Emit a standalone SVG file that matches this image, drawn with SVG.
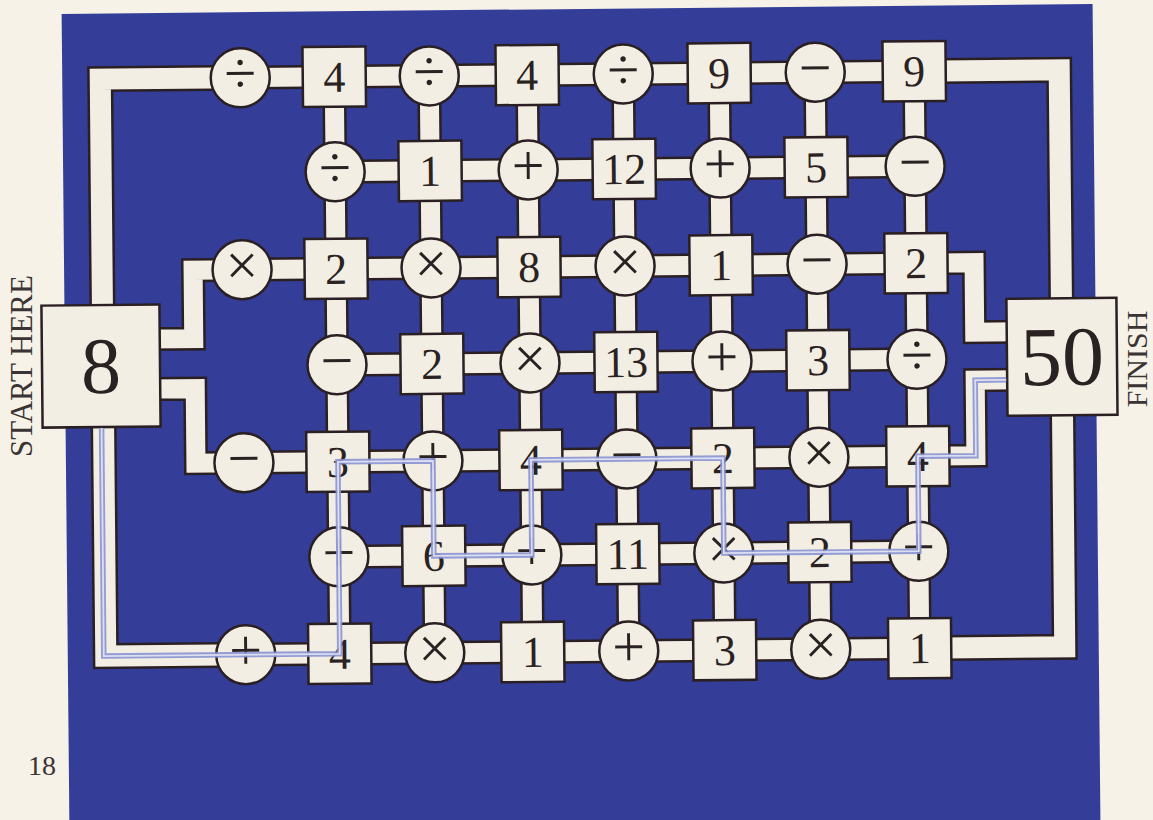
<svg xmlns="http://www.w3.org/2000/svg" width="1153" height="820" viewBox="0 0 1153 820">
<style>
.bg{fill:#f6f2e7}
.board{fill:#343e99}
.bo{fill:none;stroke:#2a1f22;stroke-width:24;stroke-linejoin:miter}
.bf{fill:none;stroke:#f2eee3;stroke-width:19;stroke-linejoin:miter}
.fo{fill:none;stroke:#2a1f22;stroke-width:26;stroke-linejoin:miter}
.ff{fill:none;stroke:#f2eee3;stroke-width:21;stroke-linejoin:miter}
.sq,.ci{fill:#f2eee3;stroke:#2a1f22;stroke-width:2.5}
.num{font-family:"Liberation Serif","Times New Roman",serif;font-size:44px;fill:#2a2222;text-anchor:middle}
.op{font-family:"Liberation Serif","Times New Roman",serif;font-size:58px;fill:#2a2222;text-anchor:middle}
.lbl{font-family:"Liberation Serif","Times New Roman",serif;font-size:31px;fill:#3a3434;text-anchor:middle}
.po{fill:none;stroke:#8892d2;stroke-width:5.5;stroke-linejoin:miter;opacity:0.9}
.pi{fill:none;stroke:#e4e6f4;stroke-width:1.8;stroke-linejoin:miter;opacity:0.9}
</style>
<rect class="bg" x="0" y="0" width="1153" height="820"/>
<text class="lbl" transform="translate(32,366) rotate(-90)">START HERE</text>
<text class="lbl" font-size="30" style="font-size:30px" transform="translate(1147,359) rotate(-90)">FINISH</text>
<text class="lbl" style="font-size:28px" x="42" y="775">18</text>
<g transform="rotate(-0.55 628 363)">
<rect class="board" x="65" y="8.5" width="1031" height="860"/>
<g id="connectors">
<path class="fo" d="M243 74H103V310M103 412V651H243M917 74H1062V312M1062 410V651H917"/>
<path class="bo" d="M243 74H917M337 169H917M243 266H917M337 362H917M243 459H917M337 554H917M243 651H917M337 74V651M432 74V651M530 74V651M626 74V651M722 74V651M818 74V651M917 74V651M150 334.5H194V266H243M150 384.5H195V459H243M917 266H975V335.5H1017M917 459H975V383.5H1017"/>
<path class="ff" d="M243 74H103V310M103 412V651H243M917 74H1062V312M1062 410V651H917"/>
<path class="bf" d="M243 74H917M337 169H917M243 266H917M337 362H917M243 459H917M337 554H917M243 651H917M337 74V651M432 74V651M530 74V651M626 74V651M722 74V651M818 74V651M917 74V651M150 334.5H194V266H243M150 384.5H195V459H243M917 266H975V335.5H1017M917 459H975V383.5H1017"/>
</g>
<g id="start"><rect class="sq" x="42" y="300" width="118" height="122"/><text class="num" style="font-size:80px" x="101" y="388">8</text></g>
<g id="finish"><rect class="sq" x="1007" y="302.5" width="110" height="117"/><text class="num" style="font-size:84px" x="1062" y="389">50</text></g>
<g id="r0c0"><circle class="ci" cx="243" cy="74" r="29.5"/><text class="op" x="243" y="89">÷</text></g>
<g id="r0c1"><rect class="sq" x="305.5" y="44" width="63" height="60"/><text class="num" x="337" y="89">4</text></g>
<g id="r0c2"><circle class="ci" cx="432" cy="74" r="29.5"/><text class="op" x="432" y="89">÷</text></g>
<g id="r0c3"><rect class="sq" x="498.5" y="44" width="63" height="60"/><text class="num" x="530" y="89">4</text></g>
<g id="r0c4"><circle class="ci" cx="626" cy="74" r="29.5"/><text class="op" x="626" y="89">÷</text></g>
<g id="r0c5"><rect class="sq" x="690.5" y="44" width="63" height="60"/><text class="num" x="722" y="89">9</text></g>
<g id="r0c6"><circle class="ci" cx="818" cy="74" r="29.5"/><text class="op" x="818" y="89">−</text></g>
<g id="r0c7"><rect class="sq" x="885.5" y="44" width="63" height="60"/><text class="num" x="917" y="89">9</text></g>
<g id="r1c1"><circle class="ci" cx="337" cy="169" r="29.5"/><text class="op" x="337" y="184">÷</text></g>
<g id="r1c2"><rect class="sq" x="400.5" y="139" width="63" height="60"/><text class="num" x="432" y="184">1</text></g>
<g id="r1c3"><circle class="ci" cx="530" cy="169" r="29.5"/><text class="op" x="530" y="184">+</text></g>
<g id="r1c4"><rect class="sq" x="594.5" y="139" width="63" height="60"/><text class="num" x="626" y="184">12</text></g>
<g id="r1c5"><circle class="ci" cx="722" cy="169" r="29.5"/><text class="op" x="722" y="184">+</text></g>
<g id="r1c6"><rect class="sq" x="786.5" y="139" width="63" height="60"/><text class="num" x="818" y="184">5</text></g>
<g id="r1c7"><circle class="ci" cx="917" cy="169" r="29.5"/><text class="op" x="917" y="184">−</text></g>
<g id="r2c0"><circle class="ci" cx="243" cy="266" r="29.5"/><text class="op" x="243" y="281">×</text></g>
<g id="r2c1"><rect class="sq" x="305.5" y="236" width="63" height="60"/><text class="num" x="337" y="281">2</text></g>
<g id="r2c2"><circle class="ci" cx="432" cy="266" r="29.5"/><text class="op" x="432" y="281">×</text></g>
<g id="r2c3"><rect class="sq" x="498.5" y="236" width="63" height="60"/><text class="num" x="530" y="281">8</text></g>
<g id="r2c4"><circle class="ci" cx="626" cy="266" r="29.5"/><text class="op" x="626" y="281">×</text></g>
<g id="r2c5"><rect class="sq" x="690.5" y="236" width="63" height="60"/><text class="num" x="722" y="281">1</text></g>
<g id="r2c6"><circle class="ci" cx="818" cy="266" r="29.5"/><text class="op" x="818" y="281">−</text></g>
<g id="r2c7"><rect class="sq" x="885.5" y="236" width="63" height="60"/><text class="num" x="917" y="281">2</text></g>
<g id="r3c1"><circle class="ci" cx="337" cy="362" r="29.5"/><text class="op" x="337" y="377">−</text></g>
<g id="r3c2"><rect class="sq" x="400.5" y="332" width="63" height="60"/><text class="num" x="432" y="377">2</text></g>
<g id="r3c3"><circle class="ci" cx="530" cy="362" r="29.5"/><text class="op" x="530" y="377">×</text></g>
<g id="r3c4"><rect class="sq" x="594.5" y="332" width="63" height="60"/><text class="num" x="626" y="377">13</text></g>
<g id="r3c5"><circle class="ci" cx="722" cy="362" r="29.5"/><text class="op" x="722" y="377">+</text></g>
<g id="r3c6"><rect class="sq" x="786.5" y="332" width="63" height="60"/><text class="num" x="818" y="377">3</text></g>
<g id="r3c7"><circle class="ci" cx="917" cy="362" r="29.5"/><text class="op" x="917" y="377">÷</text></g>
<g id="r4c0"><circle class="ci" cx="243" cy="459" r="29.5"/><text class="op" x="243" y="474">−</text></g>
<g id="r4c1"><rect class="sq" x="305.5" y="429" width="63" height="60"/><text class="num" x="337" y="474">3</text></g>
<g id="r4c2"><circle class="ci" cx="432" cy="459" r="29.5"/><text class="op" x="432" y="474">+</text></g>
<g id="r4c3"><rect class="sq" x="498.5" y="429" width="63" height="60"/><text class="num" x="530" y="474">4</text></g>
<g id="r4c4"><circle class="ci" cx="626" cy="459" r="29.5"/><text class="op" x="626" y="474">−</text></g>
<g id="r4c5"><rect class="sq" x="690.5" y="429" width="63" height="60"/><text class="num" x="722" y="474">2</text></g>
<g id="r4c6"><circle class="ci" cx="818" cy="459" r="29.5"/><text class="op" x="818" y="474">×</text></g>
<g id="r4c7"><rect class="sq" x="885.5" y="429" width="63" height="60"/><text class="num" x="917" y="474">4</text></g>
<g id="r5c1"><circle class="ci" cx="337" cy="554" r="29.5"/><text class="op" x="337" y="569">+</text></g>
<g id="r5c2"><rect class="sq" x="400.5" y="524" width="63" height="60"/><text class="num" x="432" y="569">6</text></g>
<g id="r5c3"><circle class="ci" cx="530" cy="554" r="29.5"/><text class="op" x="530" y="569">+</text></g>
<g id="r5c4"><rect class="sq" x="594.5" y="524" width="63" height="60"/><text class="num" x="626" y="569">11</text></g>
<g id="r5c5"><circle class="ci" cx="722" cy="554" r="29.5"/><text class="op" x="722" y="569">×</text></g>
<g id="r5c6"><rect class="sq" x="786.5" y="524" width="63" height="60"/><text class="num" x="818" y="569">2</text></g>
<g id="r5c7"><circle class="ci" cx="917" cy="554" r="29.5"/><text class="op" x="917" y="569">+</text></g>
<g id="r6c0"><circle class="ci" cx="243" cy="651" r="29.5"/><text class="op" x="243" y="666">+</text></g>
<g id="r6c1"><rect class="sq" x="305.5" y="621" width="63" height="60"/><text class="num" x="337" y="666">4</text></g>
<g id="r6c2"><circle class="ci" cx="432" cy="651" r="29.5"/><text class="op" x="432" y="666">×</text></g>
<g id="r6c3"><rect class="sq" x="498.5" y="621" width="63" height="60"/><text class="num" x="530" y="666">1</text></g>
<g id="r6c4"><circle class="ci" cx="626" cy="651" r="29.5"/><text class="op" x="626" y="666">+</text></g>
<g id="r6c5"><rect class="sq" x="690.5" y="621" width="63" height="60"/><text class="num" x="722" y="666">3</text></g>
<g id="r6c6"><circle class="ci" cx="818" cy="651" r="29.5"/><text class="op" x="818" y="666">×</text></g>
<g id="r6c7"><rect class="sq" x="885.5" y="621" width="63" height="60"/><text class="num" x="917" y="666">1</text></g>
<g id="solution-path">
<path class="po" d="M101 423V651H337V459H432V554H530V459H722V554H917V459H975V383.5H1006"/>
<path class="pi" d="M101 423V651H337V459H432V554H530V459H722V554H917V459H975V383.5H1006"/>
</g>
</g>
</svg>
